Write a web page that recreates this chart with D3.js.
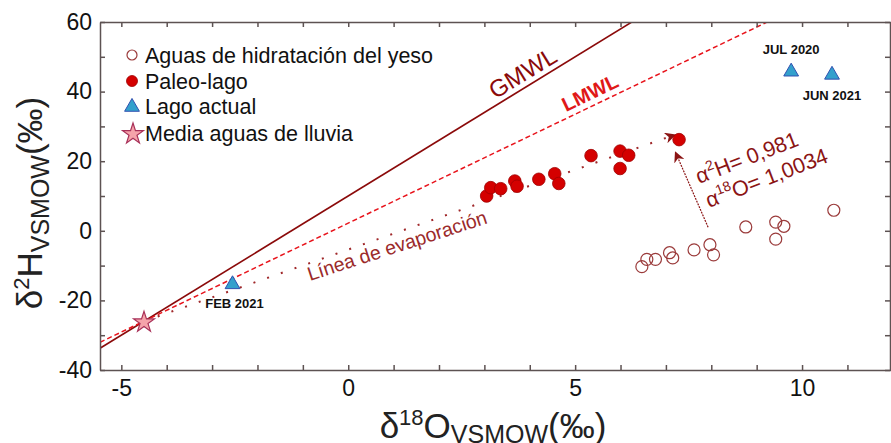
<!DOCTYPE html>
<html>
<head>
<meta charset="utf-8">
<script src="https://d3js.org/d3.v7.min.js"></script>
<style>
  body { margin: 0; background: #fff; }
  svg { font-family: "Liberation Sans", Arial, sans-serif; }
  .axis path, .axis line { stroke: #5d5252; stroke-width: 1.5; }
  .axis text { fill: #111; font-size: 23px; font-family: "Liberation Sans", Arial, sans-serif; }
</style>
</head>
<body>
<svg width="891" height="443"></svg>
<script>
// data
var yesoX = [6.47, 6.58, 6.77, 7.08, 7.15, 7.62, 7.97, 8.05, 8.76, 9.42, 9.60, 9.42, 10.70],
    yesoY = [-10.3, -8.2, -8.2, -6.3, -7.8, -5.5, -4.0, -6.9, 1.1, 2.5, 1.3, -2.4, 5.9];
var paleoX = [3.05, 3.14, 3.36, 3.67, 3.72, 4.20, 4.55, 4.64, 5.35, 5.99, 6.18, 5.99, 7.29],
    paleoY = [10.0, 12.4, 12.1, 14.3, 12.8, 14.8, 16.4, 13.6, 21.6, 22.9, 21.7, 17.9, 26.2];
var lagoX = [9.76, 10.66, -2.55],
    lagoY = [46.0, 45.1, -15.1],
    lagoLabels = ["JUL 2020", "JUN 2021", "FEB 2021"];
var lluviaX = [-4.5], lluviaY = [-26.0];
var gmwl = [8, 10], lmwl = [6.26, 2.2];       // slope, intercept
var evapEnd = [7.2, 27.6];
var alphaArrow = [[7.93, 1.0], [7.21, 22.6]];
var xTicks = d3.range(-5, 12), yTicks = d3.range(-40, 61, 10);

var svg = d3.select("svg"),
    mL = 100, mR = 891, mT = 22, mB = 370;

var x = d3.scaleLinear().domain([-5.47, 11.96]).range([mL, mR]),
    y = d3.scaleLinear().domain([-40, 60]).range([mB, mT]);

var defs = svg.append("defs");
defs.append("clipPath").attr("id", "clip")
   .append("rect").attr("x", mL).attr("y", mT).attr("width", mR - mL).attr("height", mB - mT);
defs.append("marker").attr("id", "head")
   .attr("viewBox", "0 0 10 10").attr("refX", 9).attr("refY", 5)
   .attr("markerWidth", 11).attr("markerHeight", 11).attr("markerUnits", "userSpaceOnUse")
   .attr("orient", "auto")
   .append("path").attr("d", "M0,0 L10,5 L0,10 L3,5 Z").attr("fill", "#8b1414");

var plot = svg.append("g").attr("clip-path", "url(#clip)");

// meteoric water lines
function wl(p) {
  var x0 = x.domain()[0], x1 = x.domain()[1];
  return [[x0, p[0] * x0 + p[1]], [x1, p[0] * x1 + p[1]]];
}
var line = d3.line().x(function(d) { return x(d[0]); }).y(function(d) { return y(d[1]); });

plot.append("path").attr("d", line(wl(gmwl)))
    .attr("stroke", "#8b0a0a").attr("stroke-width", 1.6).attr("fill", "none");
plot.append("path").attr("d", line(wl(lmwl)))
    .attr("stroke", "#e8141c").attr("stroke-width", 1.5).attr("stroke-dasharray", "5,3").attr("fill", "none");

// evaporation line
plot.append("path").attr("d", line([[lluviaX[0], lluviaY[0]], evapEnd]))
    .attr("stroke", "#a0282a").attr("stroke-width", 2).attr("stroke-dasharray", "2,12.5")
    .attr("fill", "none").attr("marker-end", "url(#head)");

// alpha arrow
svg.append("path").attr("d", line(alphaArrow))
   .attr("stroke", "#8b1414").attr("stroke-width", 1.2).attr("stroke-dasharray", "2,1").attr("fill", "none")
   .attr("marker-end", "url(#head)");

// axes
svg.append("g").attr("class", "axis").attr("transform", "translate(0," + mB + ")")
   .call(d3.axisBottom(x).tickValues(xTicks).tickSizeInner(-5).tickSizeOuter(0).tickPadding(10)
     .tickFormat(function(d) { return d % 5 === 0 ? d : ""; }));
svg.append("g").attr("class", "axis").attr("transform", "translate(0," + mT + ")")
   .call(d3.axisTop(x).tickValues(xTicks).tickSizeInner(-5).tickSizeOuter(0).tickFormat(""));
svg.append("g").attr("class", "axis").attr("transform", "translate(" + mL + ",0)")
   .call(d3.axisLeft(y).tickValues(yTicks).tickSizeInner(-5).tickSizeOuter(0).tickPadding(8)
     .tickFormat(function(d) { return d % 20 === 0 ? d : ""; }));
svg.append("g").attr("class", "axis").attr("transform", "translate(" + (mR - 1) + ",0)")
   .call(d3.axisRight(y).tickValues(yTicks).tickSizeInner(-5).tickSizeOuter(0).tickFormat(""));

// points
svg.selectAll(".yeso").data(yesoX).enter().append("circle")
   .attr("cx", function(d) { return x(d); }).attr("cy", function(d, i) { return y(yesoY[i]); })
   .attr("r", 6).attr("fill", "none").attr("stroke", "#9b3b3b").attr("stroke-width", 1.2);
svg.selectAll(".paleo").data(paleoX).enter().append("circle")
   .attr("cx", function(d) { return x(d); }).attr("cy", function(d, i) { return y(paleoY[i]); })
   .attr("r", 6.3).attr("fill", "#d40000").attr("stroke", "#a00000").attr("stroke-width", 0.8);

var tri = d3.symbol().type(d3.symbolTriangle).size(95),
    star = d3.symbol().type(d3.symbolStar).size(135);

svg.selectAll(".lago").data(lagoX).enter().append("path")
   .attr("d", tri)
   .attr("transform", function(d, i) { return "translate(" + x(d) + "," + (y(lagoY[i]) + 1) + ")"; })
   .attr("fill", "#33a0cc").attr("stroke", "#3050b0").attr("stroke-width", 1);
var labOff = [[0, -17], [0, 26], [2, 25]];
svg.selectAll(".lagolab").data(lagoLabels).enter().append("text")
   .attr("x", function(d, i) { return x(lagoX[i]) + labOff[i][0]; })
   .attr("y", function(d, i) { return y(lagoY[i]) + labOff[i][1]; })
   .attr("text-anchor", "middle").attr("font-size", "13px").attr("font-weight", "bold").attr("fill", "#111")
   .text(function(d) { return d; });

svg.selectAll(".lluvia").data(lluviaX).enter().append("path")
   .attr("d", star)
   .attr("transform", function(d, i) { return "translate(" + x(d) + "," + (y(lluviaY[i]) + 1) + ")"; })
   .attr("fill", "#f5a3aa").attr("stroke", "#a83058").attr("stroke-width", 1.2);

// line labels
function slopeAngle(p) { return -Math.atan(p * (y(0) - y(1)) / (x(1) - x(0))) * 180 / Math.PI; }
svg.append("text").attr("transform", "translate(527,80) rotate(" + slopeAngle(gmwl[0]) + ")")
   .attr("text-anchor", "middle").attr("font-size", "24px").attr("fill", "#8b0a0a").text("GMWL");
svg.append("text").attr("transform", "translate(593,99) rotate(" + slopeAngle(lmwl[0]) + ")")
   .attr("text-anchor", "middle").attr("font-size", "20px").attr("font-weight", "bold").attr("fill", "#e01818").text("LMWL");
svg.append("text").attr("transform", "translate(310,281) rotate(-18)")
   .attr("font-size", "19.5px").attr("fill", "#9b2a2a").text("Línea de evaporación");

var alpha = svg.append("text").attr("transform", "translate(699,184) rotate(-21)")
   .attr("font-size", "21.5px").attr("fill", "#8b1414");
alpha.append("tspan").text("α");
alpha.append("tspan").attr("font-size", "14px").attr("dy", -9).text("2");
alpha.append("tspan").attr("dy", 9).text("H= 0,981");
var alpha2 = svg.append("text").attr("transform", "translate(709,208) rotate(-21)")
   .attr("font-size", "21.5px").attr("fill", "#8b1414");
alpha2.append("tspan").text("α");
alpha2.append("tspan").attr("font-size", "14px").attr("dy", -9).text("18");
alpha2.append("tspan").attr("dy", 9).text("O= 1,0034");

// legend
var legNames = ["Aguas de hidratación del yeso", "Paleo-lago", "Lago actual", "Media aguas de lluvia"],
    legY = [55, 81, 106, 133];
var leg = svg.append("g");
leg.append("circle").attr("cx", 132).attr("cy", legY[0]).attr("r", 5).attr("fill", "none").attr("stroke", "#9b3b3b").attr("stroke-width", 1.2);
leg.append("circle").attr("cx", 132).attr("cy", legY[1]).attr("r", 5.5).attr("fill", "#d40000").attr("stroke", "#a00000").attr("stroke-width", 0.8);
leg.append("path").attr("d", tri).attr("transform", "translate(132," + (legY[2] + 1) + ")").attr("fill", "#33a0cc").attr("stroke", "#3050b0");
leg.append("path").attr("d", star).attr("transform", "translate(133," + (legY[3] + 1) + ")").attr("fill", "#f5a3aa").attr("stroke", "#a83058").attr("stroke-width", 1.2);
leg.selectAll(".lt").data(legNames).enter().append("text")
   .attr("x", 145).attr("y", function(d, i) { return legY[i] + 8; })
   .attr("font-size", "21.5px").attr("fill", "#111").text(function(d) { return d; });

// axis titles
var yt = svg.append("text").attr("transform", "translate(42,203) rotate(-90)")
   .attr("text-anchor", "middle").attr("font-size", "35px").attr("fill", "#222");
yt.append("tspan").text("δ");
yt.append("tspan").attr("font-size", "22px").attr("dy", -13).text("2");
yt.append("tspan").attr("dy", 13).text("H");
yt.append("tspan").attr("font-size", "25px").attr("dy", 7).text("VSMOW");
yt.append("tspan").attr("dy", -7).text("(‰)");

var xt = svg.append("text").attr("x", 493).attr("y", 438)
   .attr("text-anchor", "middle").attr("font-size", "35px").attr("fill", "#222");
xt.append("tspan").text("δ");
xt.append("tspan").attr("font-size", "22px").attr("dy", -13).text("18");
xt.append("tspan").attr("dy", 13).text("O");
xt.append("tspan").attr("font-size", "25px").attr("dy", 5).text("VSMOW");
xt.append("tspan").attr("dy", -5).text("(‰)");
</script>
</body>
</html>
